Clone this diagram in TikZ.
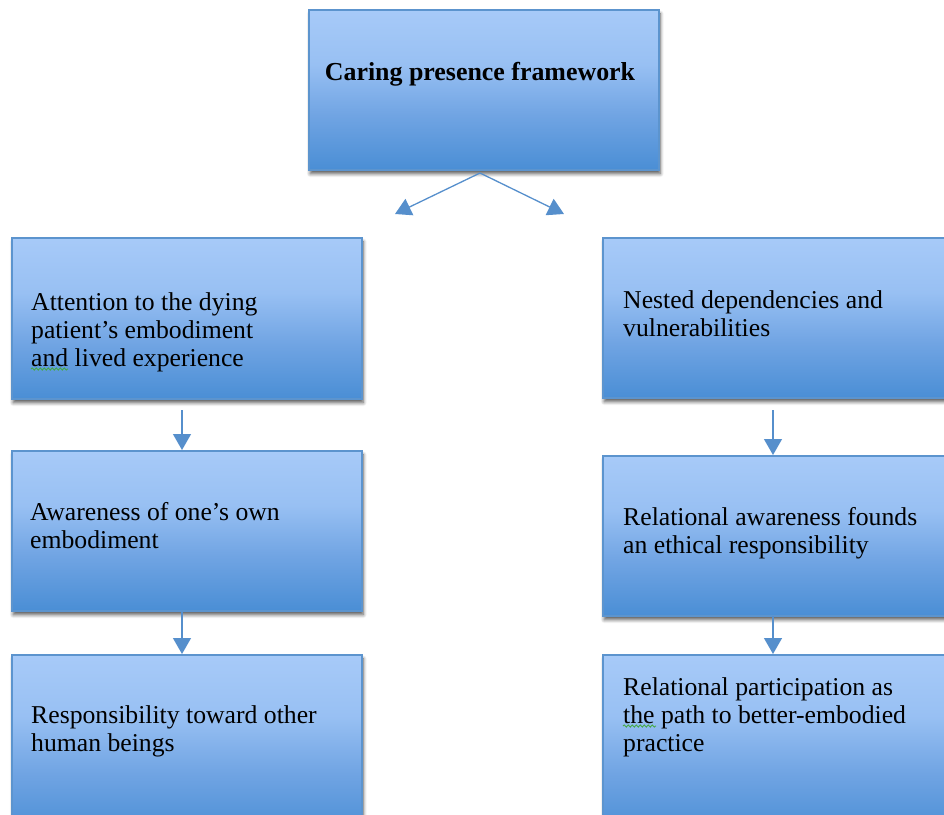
\documentclass[tikz,border=0pt]{standalone}
\usepackage{fontspec}
\setmainfont{Liberation Serif}
\usetikzlibrary{arrows.meta,shadows.blur,decorations.pathmorphing}
\definecolor{ctop}{RGB}{167,202,248}
\definecolor{ctoptwo}{RGB}{152,192,243}
\definecolor{cmid}{RGB}{112,164,227}
\definecolor{cbot}{RGB}{74,142,213}
\definecolor{cborder}{RGB}{92,148,206}
\definecolor{carrow}{RGB}{86,143,204}
\definecolor{cspell}{RGB}{70,170,70}
\pgfdeclareverticalshading{boxshade}{100bp}{color(0bp)=(cbot); color(25bp)=(cbot); color(42bp)=(cmid); color(58bp)=(ctoptwo); color(75bp)=(ctop); color(100bp)=(ctop)}
\tikzset{
  boxnode/.style={rectangle, draw=cborder, line width=1.5pt, shading=boxshade,
    anchor=north west, inner sep=0pt,
    blur shadow={shadow xshift=1.5pt, shadow yshift=-4pt, shadow blur steps=6, shadow opacity=65, shadow blur radius=3.5pt}},
  boxtext/.style={anchor=base west, align=left, inner sep=0pt,
    font=\fontsize{25.7}{28}\selectfont},
  titletext/.style={anchor=base, inner sep=0pt, font=\fontsize{25.9}{28}\selectfont\bfseries},
  conn/.style={draw=carrow, line width=1.3pt, -{Triangle[width=18pt,length=16pt]}},
  spellmark/.style={draw=cspell, line width=0.9pt, decorate,
    decoration={snake, amplitude=1.1pt, segment length=4pt}}
}
\begin{document}
\begin{tikzpicture}[x=1pt,y=-1pt]
\useasboundingbox (0,0) rectangle (944,814);
\clip (0,0) rectangle (944,814);
% boxes
\node[boxnode, minimum width=350pt, minimum height=160pt] (top) at (308,9) {};
\node[boxnode, minimum width=350pt, minimum height=161pt] (l1) at (11,237) {};
\node[boxnode, minimum width=350pt, minimum height=160pt] (l2) at (11,450) {};
\node[boxnode, minimum width=350pt, minimum height=180pt] (l3) at (11,654) {};
\node[boxnode, minimum width=360pt, minimum height=160pt] (r1) at (602,237) {};
\node[boxnode, minimum width=360pt, minimum height=160pt] (r2) at (602,455) {};
\node[boxnode, minimum width=360pt, minimum height=180pt] (r3) at (602,654) {};
% texts (anchor = baseline of the last line)
\node[titletext] (ttop) at (480,80) {Caring presence framework};
\node[boxtext] (tl1) at (31,366) {Attention to the dying\\patient’s embodiment\\and lived experience};
\node[boxtext] (tl2) at (30,548) {Awareness of one’s own\\embodiment};
\node[boxtext] (tl3) at (31,751) {Responsibility toward other\\human beings};
\node[boxtext] (tr1) at (623,336) {Nested dependencies and\\vulnerabilities};
\node[boxtext] (tr2) at (623,553) {Relational awareness founds\\an ethical responsibility};
\node[boxtext] (tr3) at (623,751) {Relational participation as\\the path to better-embodied\\practice};
% spell-check marks
\coordinate (sa1) at (31,369);
\coordinate (sa2) at (68,369);
\coordinate (sb1) at (623,726);
\coordinate (sb2) at (656,726);
\draw[spellmark] (sa1) -- (sa2);
\draw[spellmark] (sb1) -- (sb2);
% connectors
\coordinate (apex) at (480,173);
\coordinate (tipl) at (395,214);
\coordinate (tipr) at (564,214);
\draw[conn] (apex) -- (tipl);
\draw[conn] (apex) -- (tipr);
\coordinate (sl1) at (182,410);
\coordinate (sl2) at (182,612);
\coordinate (sr1) at (773,410);
\coordinate (sr2) at (773,616);
\draw[conn] (sl1) -- (sl1 |- l2.north);
\draw[conn] (sl2) -- (sl2 |- l3.north);
\draw[conn] (sr1) -- (sr1 |- r2.north);
\draw[conn] (sr2) -- (sr2 |- r3.north);
\end{tikzpicture}
\end{document}
